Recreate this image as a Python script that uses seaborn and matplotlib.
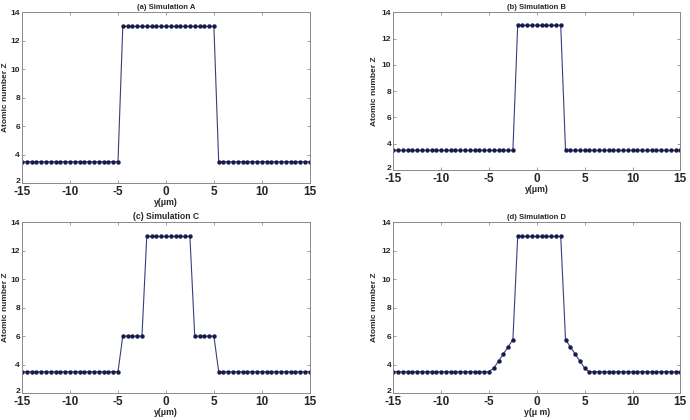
import matplotlib
matplotlib.use("Agg")
import matplotlib.pyplot as plt
import matplotlib.transforms as mtransforms
import seaborn as sns
import pandas as pd

# ---- data ----
y_um = [-15.0, -14.5, -14.0, -13.5, -13.0, -12.5, -12.0, -11.5, -11.0, -10.5,
        -10.0, -9.5, -9.0, -8.5, -8.0, -7.5, -7.0, -6.5, -6.0, -5.5,
        -5.0, -4.5, -4.0, -3.5, -3.0, -2.5, -2.0, -1.5, -1.0, -0.5,
        0.0, 0.5, 1.0, 1.5, 2.0, 2.5, 3.0, 3.5, 4.0, 4.5,
        5.0, 5.5, 6.0, 6.5, 7.0, 7.5, 8.0, 8.5, 9.0, 9.5,
        10.0, 10.5, 11.0, 11.5, 12.0, 12.5, 13.0, 13.5, 14.0, 14.5,
        15.0]

z_a = [3.5, 3.5, 3.5, 3.5, 3.5, 3.5, 3.5, 3.5, 3.5, 3.5,
       3.5, 3.5, 3.5, 3.5, 3.5, 3.5, 3.5, 3.5, 3.5, 3.5,
       3.5, 13, 13, 13, 13, 13, 13, 13, 13, 13,
       13, 13, 13, 13, 13, 13, 13, 13, 13, 13,
       13, 3.5, 3.5, 3.5, 3.5, 3.5, 3.5, 3.5, 3.5, 3.5,
       3.5, 3.5, 3.5, 3.5, 3.5, 3.5, 3.5, 3.5, 3.5, 3.5,
       3.5]

z_b = [3.5, 3.5, 3.5, 3.5, 3.5, 3.5, 3.5, 3.5, 3.5, 3.5,
       3.5, 3.5, 3.5, 3.5, 3.5, 3.5, 3.5, 3.5, 3.5, 3.5,
       3.5, 3.5, 3.5, 3.5, 3.5, 3.5, 13, 13, 13, 13,
       13, 13, 13, 13, 13, 13, 3.5, 3.5, 3.5, 3.5,
       3.5, 3.5, 3.5, 3.5, 3.5, 3.5, 3.5, 3.5, 3.5, 3.5,
       3.5, 3.5, 3.5, 3.5, 3.5, 3.5, 3.5, 3.5, 3.5, 3.5,
       3.5]

z_c = [3.5, 3.5, 3.5, 3.5, 3.5, 3.5, 3.5, 3.5, 3.5, 3.5,
       3.5, 3.5, 3.5, 3.5, 3.5, 3.5, 3.5, 3.5, 3.5, 3.5,
       3.5, 6, 6, 6, 6, 6, 13, 13, 13, 13,
       13, 13, 13, 13, 13, 13, 6, 6, 6, 6,
       6, 3.5, 3.5, 3.5, 3.5, 3.5, 3.5, 3.5, 3.5, 3.5,
       3.5, 3.5, 3.5, 3.5, 3.5, 3.5, 3.5, 3.5, 3.5, 3.5,
       3.5]

z_d = [3.5, 3.5, 3.5, 3.5, 3.5, 3.5, 3.5, 3.5, 3.5, 3.5,
       3.5, 3.5, 3.5, 3.5, 3.5, 3.5, 3.5, 3.5, 3.5, 3.5,
       3.5, 3.75, 4.25, 4.75, 5.25, 5.75, 13, 13, 13, 13,
       13, 13, 13, 13, 13, 13, 5.75, 5.25, 4.75, 4.25,
       3.75, 3.5, 3.5, 3.5, 3.5, 3.5, 3.5, 3.5, 3.5, 3.5,
       3.5, 3.5, 3.5, 3.5, 3.5, 3.5, 3.5, 3.5, 3.5, 3.5,
       3.5]

titles = ["(a) Simulation A", "(b) Simulation B", "(c) Simulation C", "(d) Simulation D"]
xlabels = ["y(\u03bcm)", "y(\u03bcm)", "y(\u03bcm)", "y(\u03bc m)"]
ylabel = "Atomic number Z"
x_ticks = [-15, -10, -5, 0, 5, 10, 15]
y_ticks = [2, 4, 6, 8, 10, 12, 14]
series = [z_a, z_b, z_c, z_d]

# ---- style ----
sns.set_style("ticks")
plt.rcParams['font.family'] = ['Liberation Sans', 'DejaVu Sans']
plt.rcParams['font.weight'] = 'bold'
plt.rcParams['axes.unicode_minus'] = False

fig = plt.figure(figsize=(6.9, 4.2), dpi=100)
positions = [
    [0.032, 0.564, 0.417, 0.407],
    [0.570, 0.595, 0.416, 0.376],
    [0.032, 0.064, 0.417, 0.407],
    [0.570, 0.064, 0.416, 0.407],
]
ylabel_x = [-0.044, -0.052, -0.044, -0.052]
title_sizes = [5.5, 5.5, 6.2, 5.5]

line_color = "#34407e"
marker_color = "#151a4a"
raise_bottom = mtransforms.ScaledTranslation(0, 2.2 / 72, fig.dpi_scale_trans)

for pos, z, title, xl, lx, ts in zip(positions, series, titles, xlabels, ylabel_x, title_sizes):
    ax = fig.add_axes(pos)
    df = pd.DataFrame({"y": y_um, "Z": z})
    sns.lineplot(data=df, x="y", y="Z", ax=ax, color=line_color, linewidth=0.8,
                 marker="o", markersize=2.8, markerfacecolor=marker_color,
                 markeredgecolor=marker_color, markeredgewidth=0.3)
    ax.set_xlim(-15, 15)
    ax.set_ylim(2, 14)
    ax.set_xticks(x_ticks)
    ax.set_yticks(y_ticks)
    ax.tick_params(axis='both', direction='in', top=True, right=True,
                   length=2.5, width=0.6, color="#8a8a8a", pad=1)
    ax.tick_params(axis='x', labelsize=8.5, pad=2.0)
    ax.tick_params(axis='y', labelsize=6, pad=1.5)
    for lab in ax.get_xticklabels() + ax.get_yticklabels():
        lab.set_fontweight('bold')
    ylabs = ax.get_yticklabels()
    ylabs[0].set_transform(ylabs[0].get_transform() + raise_bottom)
    for sp in ax.spines.values():
        sp.set_visible(True)
        sp.set_color("#8a8a8a")
        sp.set_linewidth(0.7)
    ax.set_title(title, fontsize=ts, fontweight='bold', pad=2)
    ax.set_xlabel(xl, fontsize=6.3, fontweight='bold', labelpad=0)
    ax.set_ylabel(ylabel, fontsize=6.0, fontweight='bold')
    ax.yaxis.set_label_coords(lx, 0.5)

fig.savefig("out.png", dpi=100)
